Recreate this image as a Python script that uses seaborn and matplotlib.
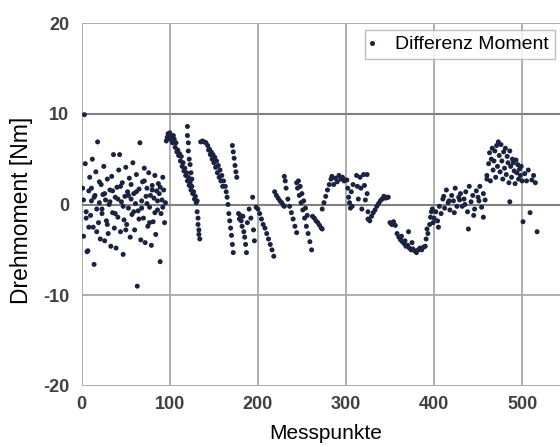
import matplotlib
matplotlib.use("Agg")
import matplotlib.pyplot as plt
import seaborn as sns
import pandas as pd

# ---- data ----
seg1_x = list(range(1, 96))
seg1_y = [1.8, -3.5, 9.9, 4.5, -0.8, -5.2, -5.1, 1.5, 3.0, -1.2, 0.4, 5.0, -2.5, -6.6, 1.0, 3.6, -0.5, 6.9, -2.0, 0.2,
          -3.8, 2.2, -1.0, 1.1, 4.2, -4.0, 0.5, -1.8, 2.8, -3.2, 0.0, 1.6, -4.6, 3.1, -0.9, 5.5, -2.6, 0.8, -4.8, 1.9,
          -1.4, 3.8, 5.5, -3.0, 0.3, 2.4, -5.5, -1.7, 0.9, 4.1, -2.2, 1.4, -0.4, 2.9, -3.6, 0.6, -1.1, 4.6, 1.2, -2.8,
          0.1, 3.3, -9.0, -0.7, 1.7, 6.8, -3.9, 0.4, 2.5, -1.5, 4.0, -4.2, 0.9, 1.8, -2.4, 3.5, -0.3, 1.0, -4.5, 2.1,
          -1.9, 0.7, 3.2, -3.3, 1.5, -0.6, 2.3, 1.2, -6.3, -1.0, 0.5, 3.0, 1.6, -2.0, 0.2]
seg1b_x = [2, 5, 8, 11, 14, 17, 20, 23, 26, 29, 32, 35, 38, 41, 44, 47, 50, 53, 56, 59, 62, 65, 68, 71, 74, 77, 80,
           83, 86, 89, 92]
seg1b_y = [0.5, -1.5, -2.5, 1.8, 0.8, -3.0, 2.5, -0.5, 1.2, -2.2, 0.3, 1.5, -1.0, 0.6, 2.0, -0.2, -2.8, 1.0, 2.2,
           -0.8, 1.4, -1.6, -0.4, 2.6, 0.1, -2.0, 1.6, -0.9, 0.4, 1.9, -0.3]

seg2_x = [96, 97, 98, 99, 100, 101, 102, 103, 104, 105,
          106, 108, 110, 112, 114, 116, 118, 120, 122, 124, 126, 128, 130,
          107, 109, 111, 113, 115, 117, 119, 121, 123, 125, 127, 129, 131,
          131, 132, 132, 133, 133, 134,
          120, 120, 121, 121, 122, 123, 124, 125,
          135, 137, 139, 141, 143, 145, 147, 149, 151, 153, 155, 157, 159, 161, 163, 164, 165, 166, 167, 168, 169,
          170, 171, 172,
          144, 146, 148, 150, 152, 154, 156, 158, 160,
          171, 172, 173, 174, 175, 176,
          178, 179, 180, 181, 182, 183, 184, 185, 186, 187, 188, 190, 192, 194, 195, 196]
seg2_y = [7.0, 7.4, 7.8, 7.3, 7.9, 7.5, 7.1, 6.8, 7.6, 7.2,
          6.3, 5.8, 5.4, 4.8, 4.2, 3.7, 3.2, 2.6, 2.1, 1.6, 1.2, 0.6, 0.2,
          6.8, 6.0, 5.6, 5.3, 4.6, 4.0, 3.5, 3.0, 2.4, 2.0, 1.4, 0.9, 0.4,
          -0.8, -1.5, -2.2, -2.8, -3.3, -3.8,
          8.6, 7.6, 6.8, 5.9, 5.0, 4.4, 3.5, 2.8,
          6.9, 7.0, 6.9, 6.8, 6.5, 6.1, 5.8, 5.5, 5.2, 4.8, 4.3, 3.8, 3.2, 2.6, 2.0, 1.4, 0.8, 0.0, -1.0, -1.8, -2.6,
          -3.4, -4.4, -5.3,
          6.0, 5.5, 5.0, 4.6, 4.1, 3.5, 3.0, 2.6, 2.0,
          6.5, 5.8, 5.1, 4.3, 3.6, 3.0,
          -1.0, -1.6, -1.2, -1.8, -2.4, -1.3, -3.0, -3.6, -4.4, -5.3, -2.0, -0.5, -1.5, 0.8, -2.8, -4.0]

seg3_x = [198, 200, 202, 204, 206, 208, 210, 212, 214, 216, 218,
          219, 221, 223, 225, 227, 229, 230,
          230, 231, 232, 234, 236, 238, 240, 242, 244,
          244, 245, 247, 249, 251, 253, 255, 257, 259, 261,
          246, 248, 250, 252, 254, 256,
          262, 264, 266, 268, 270, 272, 273,
          273, 275, 277, 279, 281, 283, 284,
          286, 288, 290, 292, 294, 296, 298, 299]
seg3_y = [-0.3, -0.5, -1.0, -1.6, -2.2, -2.6, -3.2, -3.8, -4.4, -5.0, -5.7,
          1.4, 1.0, 0.7, 0.4, 0.2, -0.1, -0.2,
          3.1, 2.6, 1.8, 0.6, -0.2, -0.9, -1.6, -2.4, -3.1,
          2.4, 1.8, 1.0, 0.2, -0.6, -1.5, -2.4, -3.2, -4.1, -5.0,
          2.6, 2.0, 1.2, 0.4, -0.4, -1.2,
          -1.3, -1.5, -1.8, -2.0, -2.3, -2.6, -2.7,
          -0.5, 0.2, 0.9, 1.6, 2.2, 2.8, 3.1,
          2.2, 2.9, 2.5, 3.2, 2.8, 3.0, 2.6, 2.7]

seg4_x = [301, 302, 303, 304, 305, 306, 307, 308,
          312, 313, 314, 316, 317, 318, 320, 321, 322, 324, 324, 325,
          325, 327, 329, 331, 333, 335, 337, 339, 341, 343, 345, 347, 348,
          350, 352, 354, 356,
          358, 360, 362, 364, 366, 368, 370, 372, 374, 376, 378, 380, 382, 384, 386, 388, 390,
          363, 367, 371, 375,
          391, 392, 393, 395, 396, 397, 398, 399]
seg4_y = [2.7, 1.8, 0.8, 0.2, -0.4, 1.4, -0.2, 2.2,
          3.2, 2.0, 0.6, 3.0, 1.8, -0.5, 3.3, 2.1, 0.5, 3.3, 1.2, -0.8,
          -1.6, -1.8, -1.3, -0.9, -0.6, -0.2, 0.1, 0.4, 0.6, 0.9, 0.7, 0.8, 0.8,
          -2.0, -2.2, -1.9, -2.3,
          -3.2, -3.6, -3.9, -4.1, -4.3, -4.6, -4.5, -4.8, -5.0, -4.9, -5.1, -5.3, -5.0, -4.8, -5.0, -4.7, -4.6,
          -3.5, -4.0, -3.0, -4.2,
          -3.8, -2.7, -3.2, -2.2, -1.4, -0.8, -0.5, -2.0]

seg5_x = [400, 402, 404, 406, 408, 410, 412, 414, 416, 418, 420, 422, 424, 426, 428, 430, 432, 434, 436, 438, 440,
          442, 444, 446, 448, 450, 452, 454, 456, 458, 460,
          405, 411, 417, 423, 429, 435, 439, 445, 451, 456,
          460, 462, 463, 464, 465, 466, 467, 468, 469, 470, 471, 472, 473, 474, 475, 476, 477, 478, 479, 480,
          481, 482, 483, 484, 485, 486, 487, 488, 489, 490, 491, 492, 493, 494, 495, 496, 497, 498, 499, 500,
          486, 501, 503, 505, 507, 509, 511, 513, 515, 517]
seg5_y = [-1.5, -0.8, -1.8, -0.2, -1.0, 0.6, -0.4, 1.6, 0.2, -0.6, 1.0, 0.4, 1.8, -0.2, 0.8, 1.2, -0.2, 0.6, 1.4,
          -0.8, 2.0, 0.3, 1.0, -0.5, 1.5, 0.8, 2.0, -0.3, 1.2, 0.5, 2.8,
          -2.5, 0.9, 0.4, -0.9, 0.5, 0.0, -2.7, -1.2, 0.4, -1.4,
          3.2, 4.5, 5.7, 2.6, 5.0, 6.2, 3.8, 4.8, 5.9, 3.0, 6.5, 4.2, 6.9, 5.4, 3.6, 6.6, 4.8, 2.8, 5.8, 4.0,
          6.2, 3.3, 5.3, 4.6, 2.4, 5.9, 4.2, 3.0, 5.0, 4.6, 3.7, 2.3, 4.9, 3.5, 4.4, 2.8, 3.9, 3.2, 4.2, 2.6,
          0.3, -1.9, 3.4, 2.6, 3.8, -0.9, 2.7, 3.2, 2.4, -3.0]

x_ticks = [0, 100, 200, 300, 400, 500]
y_ticks = [-20, -10, 0, 10, 20]
series_name = "Differenz Moment"
x_label = "Messpunkte"
y_label = "Drehmoment [Nm]"

xs = seg1_x + seg1b_x + seg2_x + seg3_x + seg4_x + seg5_x
ys = seg1_y + seg1b_y + seg2_y + seg3_y + seg4_y + seg5_y
df = pd.DataFrame({"x": xs, "y": ys, "s": series_name})

sns.set_theme(style="white")
plt.rcParams["font.family"] = ["Liberation Sans", "DejaVu Sans"]
plt.rcParams["axes.unicode_minus"] = False

fig = plt.figure(figsize=(5.6, 4.47), dpi=100)
ax = fig.add_axes([0.146, 0.1365, 0.854, 0.812])

sns.scatterplot(data=df, x="x", y="y", hue="s", palette=["#1b2340"], s=13, marker="o",
                edgecolor="none", ax=ax, zorder=3)

ax.set_xlim(0, 543)
ax.set_ylim(-20, 20)
ax.set_xticks(x_ticks)
ax.set_yticks(y_ticks)
ax.grid(True, color="#a8a8a8", linewidth=1.3, zorder=0)
for yv in (10, 0):
    ax.axhline(yv, color="#808080", linewidth=1.5, zorder=1)
for sp in ax.spines.values():
    sp.set_visible(False)
ax.tick_params(axis="both", length=0, labelsize=13, labelcolor="#404040")
ax.tick_params(axis="x", pad=7)
ax.tick_params(axis="y", pad=9)
for lab in ax.get_xticklabels() + ax.get_yticklabels():
    lab.set_fontweight("bold")
ax.set_xlabel(x_label, fontsize=15, color="black")
ax.set_ylabel(y_label, fontsize=16.5, color="black")
ax.xaxis.set_label_coords(0.51, -0.105)
ax.yaxis.set_label_coords(-0.1025, 0.485)

leg = ax.legend(loc="upper left", bbox_to_anchor=(0.592, 0.981), borderaxespad=0.0, frameon=True,
                fancybox=False, shadow=False, handlelength=0.15, handletextpad=1.1, borderpad=0.3,
                markerscale=1.0, prop={"size": 14})
leg.get_frame().set_edgecolor("#b0b0b0")
leg.get_frame().set_linewidth(1.0)
for t in leg.get_texts():
    t.set_color("black")

fig.savefig("out.png", dpi=100)
